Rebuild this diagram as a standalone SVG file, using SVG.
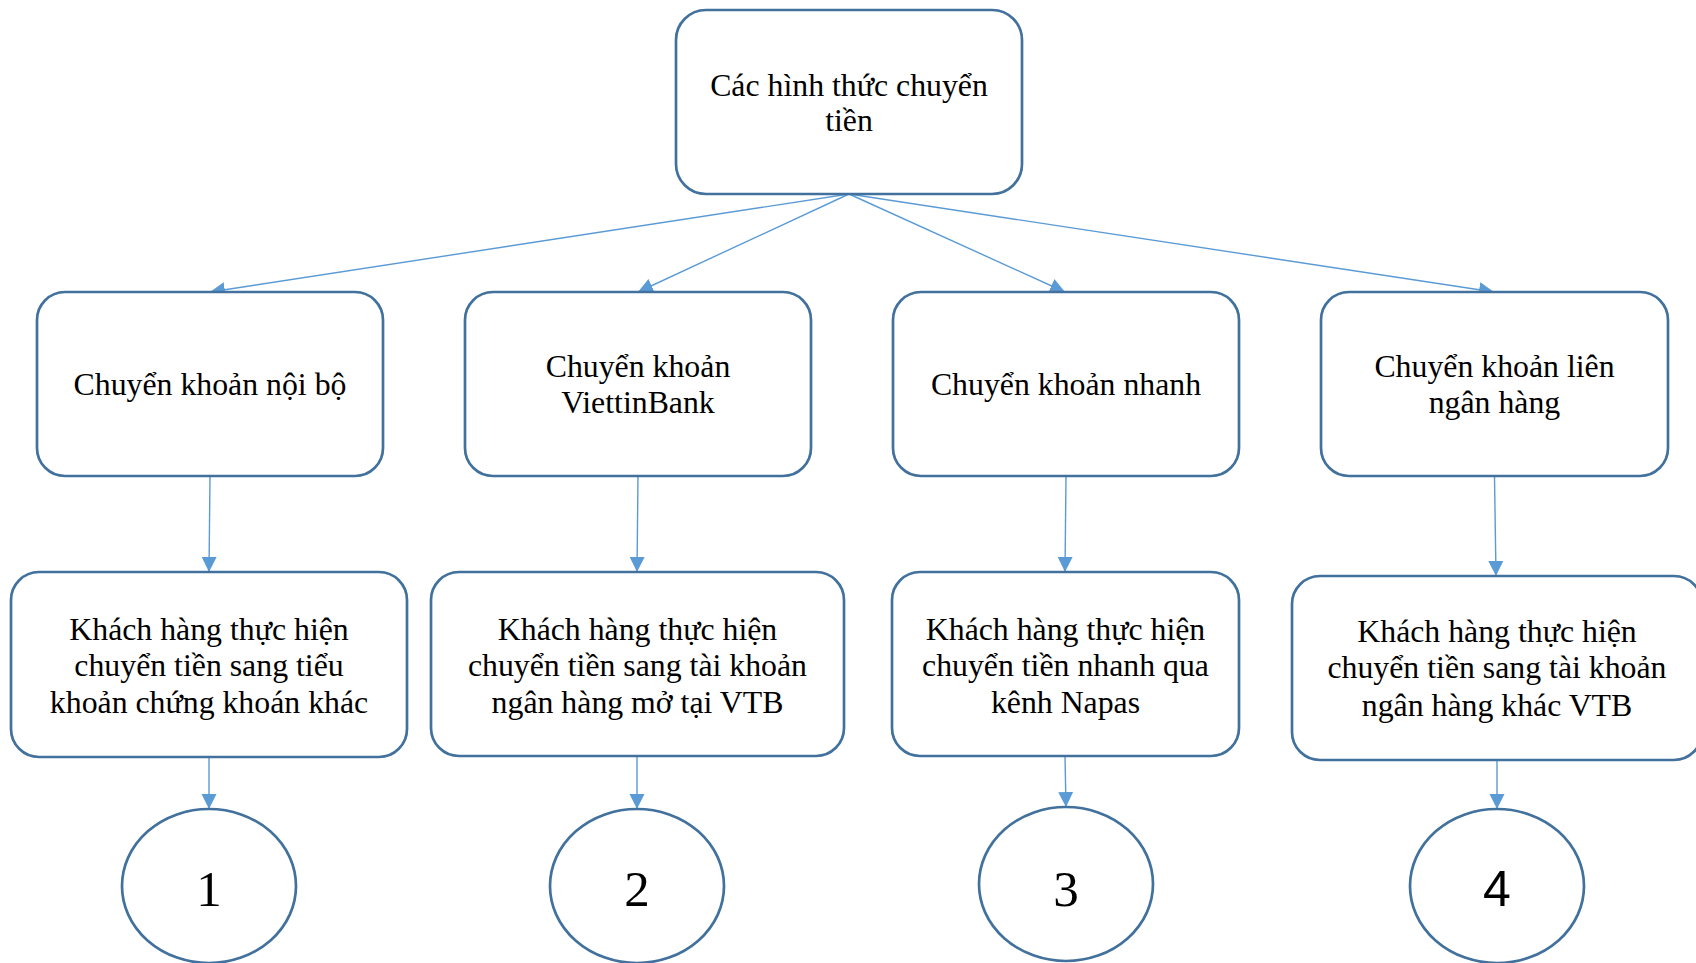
<svg xmlns="http://www.w3.org/2000/svg" width="1696" height="963" viewBox="0 0 1696 963">
<style>
.box{fill:#ffffff;stroke:#41719C;stroke-width:2.7}
.conn{stroke:#5B9BD5;stroke-width:1.4;fill:none}
.t{font-family:"Liberation Serif","Times New Roman",serif;font-size:31.8px;fill:#000;text-anchor:middle}
.n{font-family:"Liberation Serif","Times New Roman",serif;font-size:51px;fill:#000;text-anchor:middle}
.ns{font-family:"Liberation Sans",Arial,sans-serif;font-size:50px;fill:#000;text-anchor:middle}
</style>
<defs>
<marker id="arr" markerUnits="userSpaceOnUse" markerWidth="16" markerHeight="16" refX="15" refY="7.5" orient="auto">
<path d="M0,0 L15,7.5 L0,15 z" fill="#5B9BD5"/>
</marker>
</defs>
<rect width="1696" height="963" fill="#ffffff"/>
<g id="connectors">
<line class="conn" x1="849" y1="194" x2="210" y2="292" marker-end="url(#arr)"/>
<line class="conn" x1="849" y1="194" x2="638" y2="292" marker-end="url(#arr)"/>
<line class="conn" x1="849" y1="194" x2="1065" y2="292" marker-end="url(#arr)"/>
<line class="conn" x1="849" y1="194" x2="1494" y2="292" marker-end="url(#arr)"/>
<line class="conn" x1="210" y1="476" x2="209" y2="572" marker-end="url(#arr)"/>
<line class="conn" x1="638" y1="476" x2="637" y2="572" marker-end="url(#arr)"/>
<line class="conn" x1="1066" y1="476" x2="1065" y2="572" marker-end="url(#arr)"/>
<line class="conn" x1="1494.5" y1="476" x2="1496" y2="576" marker-end="url(#arr)"/>
<line class="conn" x1="209" y1="757" x2="209" y2="809" marker-end="url(#arr)"/>
<line class="conn" x1="637" y1="756" x2="637" y2="809" marker-end="url(#arr)"/>
<line class="conn" x1="1065" y1="756" x2="1066" y2="807" marker-end="url(#arr)"/>
<line class="conn" x1="1497" y1="760" x2="1497" y2="809" marker-end="url(#arr)"/>
</g>
<g id="root">
<rect class="box" x="676" y="10" width="346" height="184" rx="30"/>
<text class="t" x="849" y="96">Các hình thức chuyển</text>
<text class="t" x="849" y="131">tiền</text>
</g>
<g id="l2-1">
<rect class="box" x="37" y="292" width="346" height="184" rx="28"/>
<text class="t" x="210" y="395">Chuyển khoản nội bộ</text>
</g>
<g id="l2-2">
<rect class="box" x="465" y="292" width="346" height="184" rx="28"/>
<text class="t" x="638" y="377">Chuyển khoản</text>
<text class="t" x="638" y="413">ViettinBank</text>
</g>
<g id="l2-3">
<rect class="box" x="893" y="292" width="346" height="184" rx="28"/>
<text class="t" x="1066" y="395">Chuyển khoản nhanh</text>
</g>
<g id="l2-4">
<rect class="box" x="1321" y="292" width="347" height="184" rx="28"/>
<text class="t" x="1494.5" y="377">Chuyển khoản liên</text>
<text class="t" x="1494.5" y="413">ngân hàng</text>
</g>
<g id="l3-1">
<rect class="box" x="11" y="572" width="396" height="185" rx="28"/>
<text class="t" x="209" y="640">Khách hàng thực hiện</text>
<text class="t" x="209" y="676">chuyển tiền sang tiểu</text>
<text class="t" x="209" y="713">khoản chứng khoán khác</text>
</g>
<g id="l3-2">
<rect class="box" x="431" y="572" width="413" height="184" rx="28"/>
<text class="t" x="637.5" y="640">Khách hàng thực hiện</text>
<text class="t" x="637.5" y="676">chuyển tiền sang tài khoản</text>
<text class="t" x="637.5" y="713">ngân hàng mở tại VTB</text>
</g>
<g id="l3-3">
<rect class="box" x="892" y="572" width="347" height="184" rx="28"/>
<text class="t" x="1065.5" y="640">Khách hàng thực hiện</text>
<text class="t" x="1065.5" y="676">chuyển tiền nhanh qua</text>
<text class="t" x="1065.5" y="713">kênh Napas</text>
</g>
<g id="l3-4">
<rect class="box" x="1292" y="576" width="410" height="184" rx="28"/>
<text class="t" x="1497" y="642">Khách hàng thực hiện</text>
<text class="t" x="1497" y="678">chuyển tiền sang tài khoản</text>
<text class="t" x="1497" y="716">ngân hàng khác VTB</text>
</g>
<g id="c1">
<ellipse class="box" cx="209" cy="886" rx="87" ry="77"/>
<text class="n" x="209" y="906">1</text>
</g>
<g id="c2">
<ellipse class="box" cx="637" cy="886" rx="87" ry="77"/>
<text class="n" x="637" y="906">2</text>
</g>
<g id="c3">
<ellipse class="box" cx="1066" cy="884" rx="87" ry="77"/>
<text class="n" x="1066" y="906">3</text>
</g>
<g id="c4">
<ellipse class="box" cx="1497" cy="886" rx="87" ry="77"/>
<text class="ns" x="1497" y="906">4</text>
</g>
</svg>
